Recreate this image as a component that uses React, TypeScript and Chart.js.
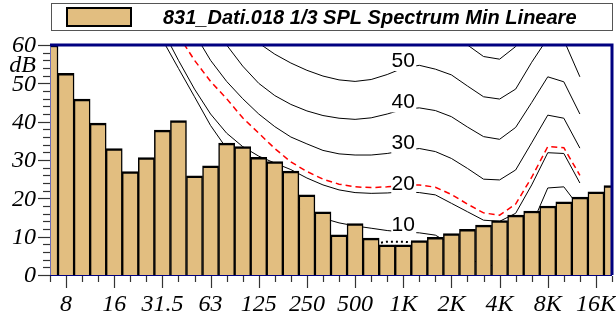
import React, { useEffect, useRef } from "react";
import { Chart, registerables } from "chart.js";
Chart.register(...registerables);

const bands = ["6.3","8","10","12.5","16","20","25","31.5","40","50","63","80","100","125","160","200","250","315","400","500","630","800","1K","1.25K","1.6K","2K","2.5K","3.15K","4K","5K","6.3K","8K","10K","12.5K","16K","20K"];
const tickLabels = ["", "8", "", "", "16", "", "", "31.5", "", "", "63", "", "", "125", "", "", "250", "", "", "500", "", "", "1K", "", "", "2K", "", "", "4K", "", "", "8K", "", "", "16K", ""];
const yTickLabels = ["0", "10", "20", "30", "40", "50", "60"];

const spectrum = [60, 52.6, 45.9, 39.6, 33.0, 27.0, 30.6, 37.8, 40.3, 25.9, 28.5, 34.4, 33.5, 30.7, 29.6, 27.1, 20.9, 16.5, 10.5, 13.4, 9.6, 7.9, 7.9, 9.0, 9.8, 10.8, 11.9, 13.0, 14.2, 15.6, 16.7, 18.0, 19.1, 20.3, 21.7, 23.3];

const N = null;
const curve10 = [N, N, N, N, N, N, N, 61.4, 53.9, 46.5, 39, 33, 28.5, 24.5, 21, 18.5, 16.5, 14.8, 13.6, 12.8, 12.2, 11.6, 11.2, 11.0, 10.4, 8, 4.5, 2.5, 2.5, 5.5, 13, 22.7, 23, 17.5, N, N];
const curve20 = [N, N, N, N, N, N, N, 64, 56, 48.5, 42, 37, 33.5, 31, 29.2, 27.5, 25.3, 23.5, 22.2, 21.5, 21.3, 21.4, 21.7, 21.5, 20.9, 18.7, 16.5, 14.3, 14.0, 16.1, 23.5, 31.9, 31.7, 24, N, N];
const curve30 = [N, N, N, N, N, N, N, N, N, 63, 56, 50.5, 46, 42, 38.7, 36, 34.2, 32.5, 31.6, 31.3, 31.3, 31.7, 32.4, 33.0, 32.2, 30.4, 27.8, 25.0, 24.8, 27.4, 34.5, 41.7, 40.9, 33.1, N, N];
const curve40 = [N, N, N, N, N, N, N, N, N, N, 65, 60, 54.5, 50, 46.8, 44.5, 42.8, 41.6, 40.9, 40.6, 41, 42, 43.2, 43.6, 42.9, 41.3, 38.6, 36.1, 35.4, 38.5, 45, 51.7, 50.4, 42, N, N];
const curve50 = [N, N, N, N, N, N, N, N, N, N, N, N, 65, 60.5, 57.6, 55.3, 53.4, 51.9, 50.9, 50.5, 51, 52.3, 54, 54.7, 53.7, 52.2, 49.3, 46.5, 45.9, 48.5, 55.5, 61.8, 61.3, 51.7, N, N];
const curve60 = [N, N, N, N, N, N, N, N, N, N, N, N, N, N, N, N, N, N, N, N, N, N, N, N, N, 63.5, 60, 57, 56.3, 59.6, 66, N, N, N, N, N];
const limitCurve = [N, N, N, N, N, N, N, N, 62.5, 56, 50.5, 46, 41, 37, 33, 29.5, 27, 25, 23.7, 23, 22.8, 23, 23.4, 23.5, 22.9, 21, 18.5, 16.2, 15.6, 18.5, 25.5, 33.5, 33.2, 26, N, N];
const thresholdCurve = [N, N, N, N, N, N, N, N, N, N, N, N, N, N, N, N, N, N, N, N, 8.0, 8.7, 8.7, 8.3, N, N, N, N, N, N, N, N, N, N, N, N];

const curveLabels = ["50", "40", "30", "20", "10"];
const labelCurves = [curve50, curve40, curve30, curve20, curve10];

const BAR_FILL = "#E2BE80";
const NAVY = "#000080";

const decor = {
  id: "decor",
  afterDatasetsDraw(chart: any) {
    const { ctx, scales } = chart;
    const x = scales.x, y = scales.y;
    ctx.save();
    const xi = x.getPixelForValue(22);
    curveLabels.forEach((lab, k) => {
      const v = labelCurves[k][22] as number;
      const py = y.getPixelForValue(v);
      ctx.fillStyle = "#fff";
      ctx.fillRect(xi - 12, py - 18, 25, 21);
      ctx.fillStyle = "#000";
      ctx.font = "21px 'Liberation Sans', Arial, sans-serif";
      ctx.textAlign = "center";
      ctx.textBaseline = "alphabetic";
      ctx.fillText(lab, xi, py - 1.5);
    });
    ctx.restore();
  },
  afterDraw(chart: any) {
    const { ctx, chartArea: a, scales } = chart;
    const x = scales.x, y = scales.y;
    ctx.save();
    ctx.strokeStyle = "#6a6ab8";
    ctx.lineWidth = 1;
    ctx.beginPath();
    ctx.moveTo(a.left + 0.5, a.top);
    ctx.lineTo(a.left + 0.5, a.bottom);
    ctx.stroke();
    ctx.strokeStyle = NAVY;
    ctx.beginPath();
    ctx.moveTo(a.left, a.bottom + 0.5);
    ctx.lineTo(a.right, a.bottom + 0.5);
    ctx.stroke();
    ctx.lineWidth = 3;
    ctx.beginPath();
    ctx.moveTo(a.left, a.top);
    ctx.lineTo(a.right, a.top);
    ctx.lineTo(a.right, a.bottom);
    ctx.stroke();
    ctx.strokeStyle = "#333";
    ctx.lineWidth = 1.2;
    for (let v = 0; v <= 60; v += 2) {
      const py = Math.round(y.getPixelForValue(v)) + 0.5;
      const major = v % 10 === 0;
      ctx.beginPath();
      ctx.moveTo(major ? a.left - 12 : a.left - 7, py);
      ctx.lineTo(a.left, py);
      ctx.stroke();
    }
    for (let i = 0; i < bands.length; i++) {
      const px = Math.round(x.getPixelForValue(i)) + 0.5;
      const major = tickLabels[i] !== "";
      ctx.beginPath();
      ctx.moveTo(px, a.bottom + 1);
      ctx.lineTo(px, a.bottom + (major ? 13 : 7));
      ctx.stroke();
    }
    ctx.fillStyle = "#000";
    ctx.font = "italic 24px 'Liberation Serif', 'DejaVu Serif', serif";
    ctx.textAlign = "right";
    ctx.textBaseline = "middle";
    yTickLabels.forEach((t) => {
      ctx.fillText(t, 36, y.getPixelForValue(Number(t)) + 1);
    });
    ctx.fillText("dB", 36, 66);
    ctx.textAlign = "center";
    for (let i = 0; i < bands.length; i++) {
      if (tickLabels[i]) ctx.fillText(tickLabels[i], x.getPixelForValue(i), 305);
    }
    ctx.fillStyle = "#fff";
    ctx.fillRect(51, 3, 562, 28);
    ctx.strokeStyle = "#555";
    ctx.lineWidth = 1;
    ctx.strokeRect(51.5, 3.5, 561, 27);
    ctx.fillStyle = BAR_FILL;
    ctx.fillRect(67, 8, 64, 18);
    ctx.strokeStyle = "#000";
    ctx.lineWidth = 2;
    ctx.strokeRect(67, 8, 64, 18);
    ctx.fillStyle = "#000";
    ctx.font = "bold italic 20px 'Liberation Sans', Arial, sans-serif";
    ctx.textAlign = "left";
    ctx.textBaseline = "middle";
    ctx.fillText("831_Dati.018 1/3 SPL Spectrum Min Lineare", 163, 18);
    ctx.restore();
  },
};

function lineDs(data: (number | null)[], opts: any = {}) {
  return {
    type: "line" as const,
    data,
    borderColor: "#000",
    borderWidth: 1,
    pointRadius: 0,
    fill: false,
    tension: 0,
    spanGaps: false,
    clip: 0,
    order: 1,
    ...opts,
  };
}

export default function App() {
  const ref = useRef<HTMLCanvasElement>(null);
  useEffect(() => {
    document.body.style.margin = "0";
    const chart = new Chart(ref.current!, {
      type: "bar",
      data: {
        labels: bands,
        datasets: [
          {
            type: "bar",
            data: spectrum,
            backgroundColor: BAR_FILL,
            borderColor: "#000",
            borderWidth: { top: 2.5, left: 1.5, right: 1.5, bottom: 0 },
            borderSkipped: false,
            barPercentage: 1,
            categoryPercentage: 1,
            clip: 0,
            order: 0,
          } as any,
          lineDs(curve10),
          lineDs(curve20),
          lineDs(curve30),
          lineDs(curve40),
          lineDs(curve50),
          lineDs(curve60),
          lineDs(limitCurve, { borderColor: "#ff0000", borderWidth: 1.5, borderDash: [6, 4] }),
          lineDs(thresholdCurve, { borderWidth: 2, borderDash: [2, 3] }),
        ],
      },
      options: {
        responsive: false,
        animation: false,
        devicePixelRatio: 1,
        layout: { padding: { left: 50, top: 45, right: 4, bottom: 47 } },
        plugins: { legend: { display: false }, tooltip: { enabled: false } },
        scales: {
          x: { type: "category", offset: false, display: false },
          y: { type: "linear", min: 0, max: 60, display: false },
        },
      },
      plugins: [decor],
    });
    return () => chart.destroy();
  }, []);
  return (
    <div style={{ position: "absolute", left: 0, top: 0, width: 616, height: 322, background: "#fff" }}>
      <canvas ref={ref} width={616} height={322} style={{ display: "block", width: 616, height: 322 }} />
    </div>
  );
}
